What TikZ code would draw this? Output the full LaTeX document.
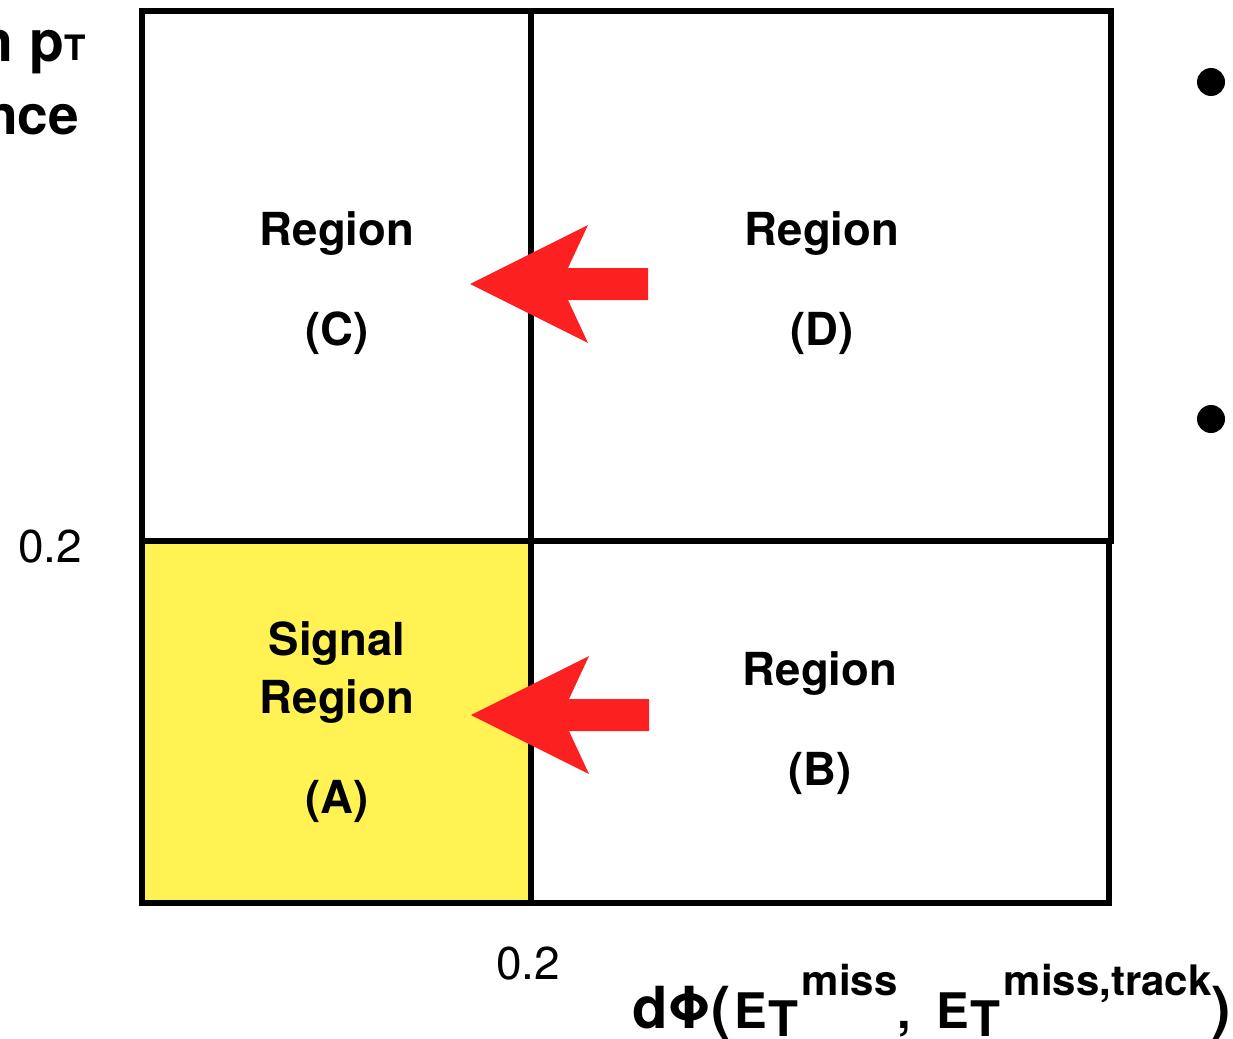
\documentclass[tikz,border=0pt]{standalone}
\usepackage{fontspec}
\setmainfont{TeX Gyre Heros}
\definecolor{sigyellow}{RGB}{255,242,82}
\definecolor{arrowred}{RGB}{252,32,32}
\begin{document}
\begin{tikzpicture}[x=1pt,y=-1pt,
  frame/.style={draw=black, line width=5.5pt},
  lbl/.style={font=\fontsize{45.5}{54}\selectfont\bfseries, inner sep=0pt, anchor=base},
  tick/.style={font=\fontsize{46}{55}\selectfont, inner sep=0pt, anchor=base},
  axis/.style={font=\bfseries, inner sep=0pt},
  dot/.style={circle, fill=black, minimum size=28pt, inner sep=0pt},
  pics/fatarrow/.style={code={
    \fill[arrowred] (0,0) -- (118,-59) -- (98,-16) -- (178,-16) -- (178,16)
      -- (98,16) -- (118,59) -- cycle;}}]
\useasboundingbox (0,0) rectangle (1233,1038);
\clip (0,0) rectangle (1233,1038);

% signal region shading
\fill[sigyellow] (142,541) rectangle (531,903);

% grid of the four regions
\draw[frame] (142,11) rectangle (1111,541);
\draw[frame] (142,541) rectangle (1109,903);
\draw[frame] (531,11) -- (531,903);

% extrapolation arrows
\pic at (470,284) {fatarrow};
\pic at (471,715) {fatarrow};

% region labels
\node[lbl] (regC) at (337,245) {Region};
\node[lbl] (labC) at (337,345) {(C)};
\node[lbl] (regD) at (822,245) {Region};
\node[lbl] (labD) at (822,345) {(D)};
\node[lbl] (sigA) at (337,655) {Signal};
\node[lbl] (regA) at (337,713) {Region};
\node[lbl] (labA) at (337,813) {(A)};
\node[lbl] (regB) at (820,685) {Region};
\node[lbl] (labB) at (820,785) {(B)};

% cut values
\node[tick] (cuty) at (50,562) {0.2};
\node[tick] (cutx) at (528,979) {0.2};

% axis titles
\node[axis, anchor=base east] (ytitle1) at (86,62)
  {\fontsize{57}{57}\selectfont n p\raisebox{1pt}{\fontsize{35}{35}\selectfont T}};
\node[axis, anchor=base east] (ytitle2) at (79,135)
  {\fontsize{55}{55}\selectfont nce};
\node[axis, anchor=base west] (xtitle) at (632,1028)
  {\fontsize{58}{58}\selectfont dΦ(\hspace{3pt}%
   {\fontsize{49}{49}\selectfont E\hspace{2pt}\raisebox{-8pt}{T}}\hspace{3pt}%
   \raisebox{33pt}{\fontsize{42}{42}\selectfont miss}%
   {\fontsize{49}{49}\selectfont,\hspace{25pt}E\hspace{2pt}\raisebox{-8pt}{T}}\hspace{3pt}%
   \raisebox{33pt}{\fontsize{42}{42}\selectfont miss,track})};

% list bullets
\node[dot] (bul1) at (1211,82) {};
\node[dot] (bul2) at (1211,419) {};
\end{tikzpicture}
\end{document}
